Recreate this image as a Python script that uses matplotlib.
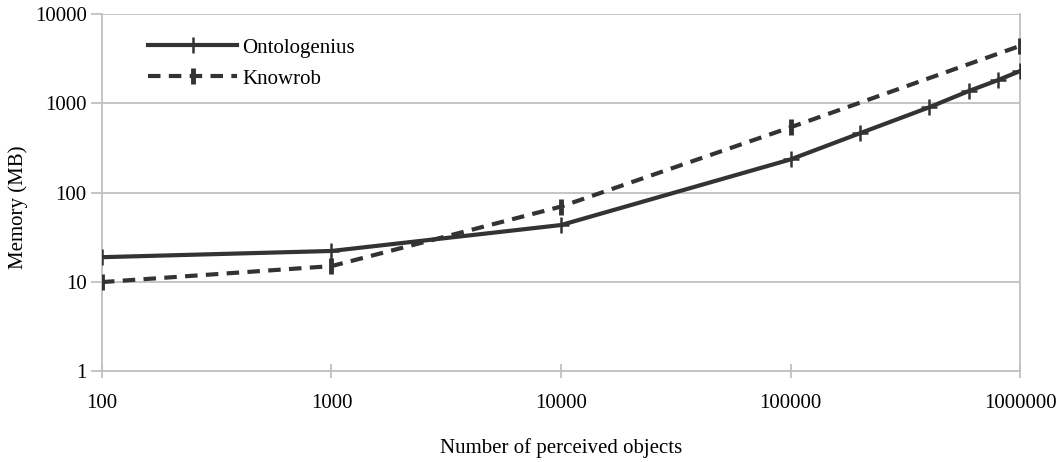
import numpy as np
import matplotlib
matplotlib.use('Agg')
import matplotlib.pyplot as plt
from matplotlib.ticker import FixedLocator, FixedFormatter, NullLocator

# data
onto_x = [100, 1000, 10000, 100000, 200000, 400000, 600000, 800000, 1000000]
onto_y = [19, 22.3, 43.5, 236, 462, 900, 1380, 1820, 2300]
know_x = [100, 1000, 10000, 100000, 1000000]
know_y = [10, 15.1, 70, 540, 4400]

x_ticks = [100, 1000, 10000, 100000, 1000000]
y_ticks = [1, 10, 100, 1000, 10000]

plt.rcParams['font.family'] = ['Liberation Serif', 'DejaVu Serif']
line_col = '#333333'
grid_col = '#c0c0c0'
fs = 15

fig = plt.figure(figsize=(10.62, 4.62), dpi=100)
ax = fig.add_axes([0.096, 0.196, 0.8645, 0.7736])

ax.plot(onto_x, onto_y, color=line_col, lw=3, marker='+', ms=11, mew=1.8,
        label='Ontologenius', zorder=3)
ax.plot(know_x, know_y, color=line_col, lw=3, ls=(0, (3, 2)), marker='|', ms=11, mew=3.5,
        label='Knowrob', zorder=3)

ax.set_xscale('log')
ax.set_yscale('log')
ax.set_xlim(100, 1000000)
ax.set_ylim(1, 10000)

ax.xaxis.set_major_locator(FixedLocator(x_ticks))
ax.xaxis.set_major_formatter(FixedFormatter([str(v) for v in x_ticks]))
ax.xaxis.set_minor_locator(NullLocator())
ax.yaxis.set_major_locator(FixedLocator(y_ticks))
ax.yaxis.set_major_formatter(FixedFormatter([str(v) for v in y_ticks]))
ax.yaxis.set_minor_locator(NullLocator())

ax.grid(axis='y', color=grid_col, lw=1.3)
ax.set_axisbelow(True)
for s in ['left', 'bottom', 'right']:
    ax.spines[s].set_color(grid_col)
    ax.spines[s].set_linewidth(1.3)
ax.spines['top'].set_visible(False)

ax.tick_params(axis='y', direction='out', length=8, width=1.3, color=grid_col,
               labelsize=fs, pad=3)
ax.tick_params(axis='x', direction='inout', length=10, width=1.3, color=grid_col,
               labelsize=fs, pad=11)

ax.set_xlabel('Number of perceived objects', fontsize=fs, labelpad=18)
ax.set_ylabel('Memory (MB)', fontsize=fs)
ax.yaxis.set_label_coords(-0.081, 0.459)

ax.legend(loc='upper left', bbox_to_anchor=(0.03, 0.985), frameon=False, fontsize=fs,
          handlelength=4.25, handletextpad=0.25, labelspacing=0.55)

fig.savefig('out.png', dpi=100)
